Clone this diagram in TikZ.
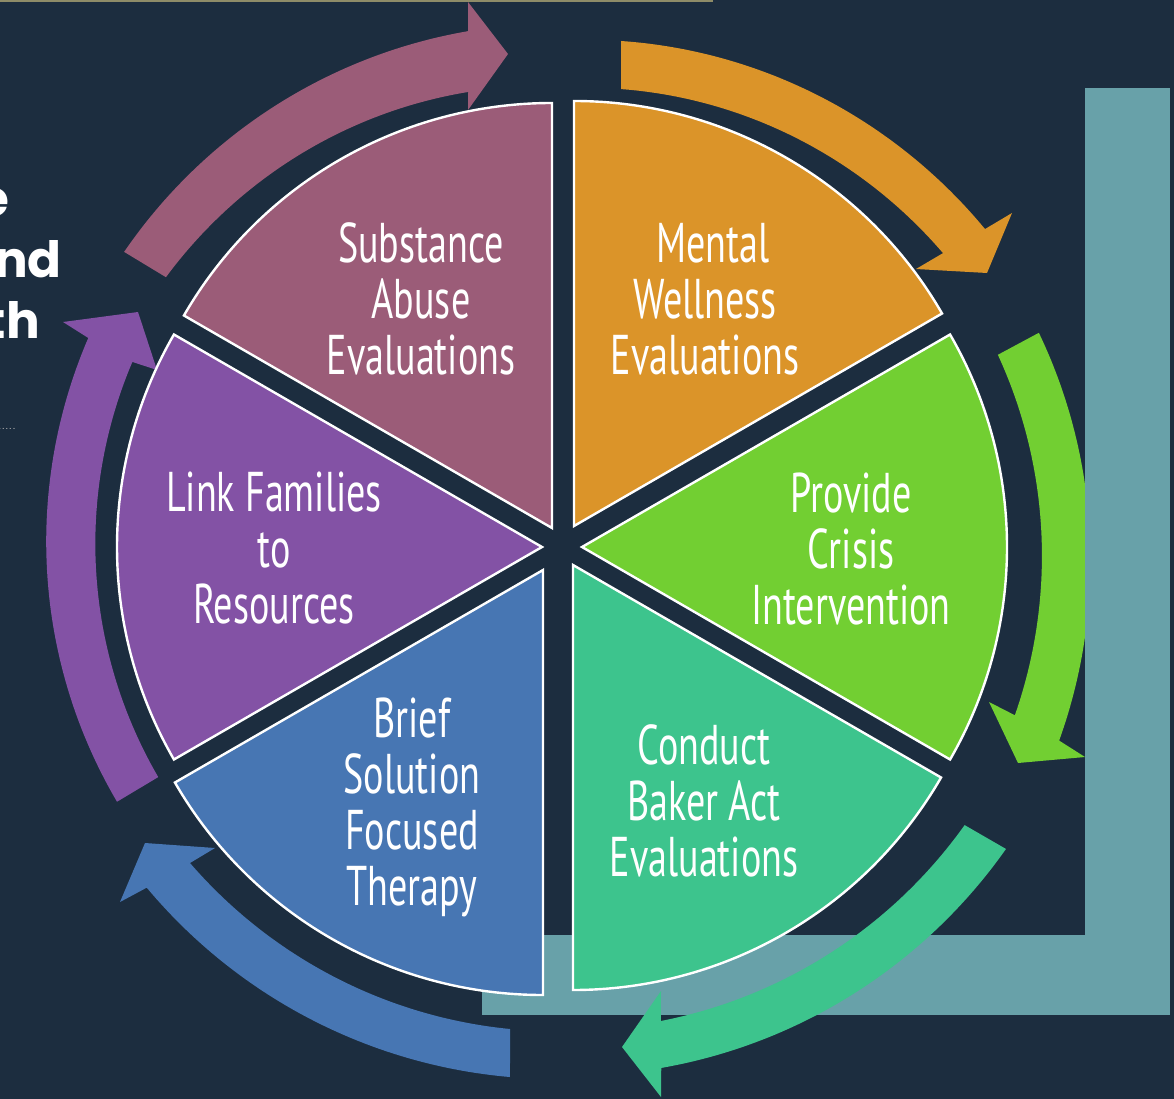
\documentclass[tikz,border=0pt]{standalone}
\usepackage{fontspec}
\newfontfamily\condfont[FakeStretch=0.68]{PT Sans}
\newfontfamily\popfont{Poppins}
\definecolor{bg}{HTML}{1C2D3F}
\definecolor{olive}{HTML}{8E8C68}
\definecolor{cmauve}{HTML}{9B5C78}
\definecolor{corange}{HTML}{DB9429}
\definecolor{cgreen}{HTML}{72CF32}
\definecolor{cteal}{HTML}{3DC48D}
\definecolor{cblue}{HTML}{4776B3}
\definecolor{cpurple}{HTML}{8352A5}
\definecolor{cbar}{HTML}{68A1A9}
% spiral edge around the pie centre (560,547): angle #1 radius #2 -> angle #3 radius #4
\newcommand{\spir}[4]{plot[domain=#1:#3, samples=60, variable=\t] ({560+((#2)+((#4)-(#2))*(\t-(#1))/((#3)-(#1)))*cos(\t)}, {547-((#2)+((#4)-(#2))*(\t-(#1))/((#3)-(#1)))*sin(\t)})}
\newcommand{\spirto}[4]{-- plot[domain=#1:#3, samples=60, variable=\t] ({560+((#2)+((#4)-(#2))*(\t-(#1))/((#3)-(#1)))*cos(\t)}, {547-((#2)+((#4)-(#2))*(\t-(#1))/((#3)-(#1)))*sin(\t)})}
\tikzset{
  sector/.style={draw=white, line width=2.4pt, line join=miter},
  lbl/.style={text=white, font=\condfont\fontsize{56}{56}\selectfont, align=center, inner sep=0pt},
  frag/.style={text=white, font=\popfont\bfseries\fontsize{50}{50}\selectfont, inner sep=0pt, anchor=base east}
}
\begin{document}
\begin{tikzpicture}[x=1pt,y=-1pt]
\useasboundingbox (0,0) rectangle (1174,1099);
\clip (0,0) rectangle (1174,1099);
\fill[bg] (0,0) rectangle (1174,1099);
\fill[olive] (0,0) rectangle (713,2.5);

% cut-off text at the left edge
\node[frag] (fe) at (10,217) {e};
\node[frag] (fnd) at (62,277) {nd};
\node[frag] (fth) at (40,338) {th};
\node[text=gray!60!white, font=\sffamily\fontsize{13}{13}\selectfont, inner sep=0pt, anchor=base east] (fdots) at (16,429) {.....};

% green arrow (lies under the teal bar)
\fill[cgreen] \spir{24.1}{524.6}{-21.2}{535.4} -- (1085,757) -- (1018,763) -- (989,702) \spirto{-20.3}{485}{23.7}{478.2} -- cycle;

% teal L-shaped bar
\fill[cbar] (1085,88) rectangle (1170,1015);
\fill[cbar] (482,935) rectangle (1170,1015);

% other arrows
\fill[cmauve] \spir{145.9}{526.4}{100.1}{524} -- (468,2) -- (508,54) -- (468,110) \spirto{101.4}{464.2}{145.6}{477.6} -- cycle;
\fill[corange] \spir{83.1}{509.7}{36.8}{530.8} -- (1012,213) -- (987,273) -- (916,269) \spirto{37.5}{482.8}{82.4}{462} -- cycle;
\fill[cteal] \spir{-34.1}{538.6}{-79}{530.7} -- (661,1097) -- (622,1047) -- (661,991) \spirto{-78}{484.6}{-34.5}{491} -- cycle;
\fill[cblue] \spir{-95.4}{532.4}{-140.5}{535.6} -- (120,902) -- (145,843) -- (215,848) \spirto{-139.5}{486.6}{-95.9}{484.6} -- cycle;
\fill[cpurple] \spir{209.9}{511}{156.1}{516} -- (63,322) -- (138,312) -- (157,370) \spirto{156.6}{466}{209.8}{463} -- cycle;

% pie sectors
\coordinate (aS) at (552,528);
\coordinate (aM) at (574,526);
\coordinate (aP) at (582,547);
\coordinate (aC) at (573,565);
\coordinate (aB) at (543,570);
\coordinate (aL) at (542,547);
\filldraw[sector, fill=cmauve] (aS) -- ++(-90:425) arc[start angle=-90, end angle=-150, radius=425] -- cycle;
\filldraw[sector, fill=corange] (aM) -- ++(-30:425) arc[start angle=-30, end angle=-90, radius=425] -- cycle;
\filldraw[sector, fill=cgreen] (aP) -- ++(30:425) arc[start angle=30, end angle=-30, radius=425] -- cycle;
\filldraw[sector, fill=cteal] (aC) -- ++(90:425) arc[start angle=90, end angle=30, radius=425] -- cycle;
\filldraw[sector, fill=cblue] (aB) -- ++(150:425) arc[start angle=150, end angle=90, radius=425] -- cycle;
\filldraw[sector, fill=cpurple] (aL) -- ++(210:425) arc[start angle=210, end angle=150, radius=425] -- cycle;

% labels
\node[lbl] (tS) at (421,299) {Substance\\Abuse\\Evaluations};
\node[lbl] (tM) at (705,299) {\hspace*{16pt}Mental\\Wellness\\Evaluations};
\node[lbl] (tP) at (851,549) {Provide\\Crisis\\Intervention};
\node[lbl] (tC) at (704,801) {Conduct\\Baker Act\\Evaluations};
\node[lbl] (tB) at (412,807) {Brief\\Solution\\Focused\\Therapy};
\node[lbl] (tL) at (274,548) {Link Families\\to\\Resources};
\end{tikzpicture}
\end{document}
